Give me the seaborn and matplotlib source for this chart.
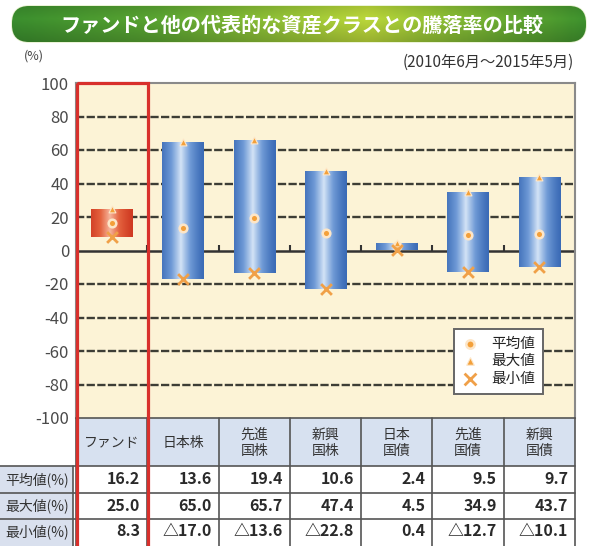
import numpy as np
import pandas as pd
import matplotlib
matplotlib.use("Agg")
import matplotlib.pyplot as plt
import seaborn as sns
from matplotlib.patches import FancyBboxPatch, Rectangle
from matplotlib.colors import LinearSegmentedColormap

# ---------------- data ----------------
categories = ["ファンド", "日本株", "先進国株", "新興国株", "日本国債", "先進国債", "新興国債"]
header_labels = ["ファンド", "日本株", "先進\n国株", "新興\n国株", "日本\n国債", "先進\n国債", "新興\n国債"]
avg_vals = [16.2, 13.6, 19.4, 10.6, 2.4, 9.5, 9.7]
max_vals = [25.0, 65.0, 65.7, 47.4, 4.5, 34.9, 43.7]
min_vals = [8.3, -17.0, -13.6, -22.8, 0.4, -12.7, -10.1]
row_labels = ["平均値(%)", "最大値(%)", "最小値(%)"]
legend_labels = ["平均値", "最大値", "最小値"]
yticks = [-100, -80, -60, -40, -20, 0, 20, 40, 60, 80, 100]
title = "ファンドと他の代表的な資産クラスとの騰落率の比較"
subtitle = "(2010年6月～2015年5月)"
unit_label = "(%)"

df = pd.DataFrame({"cat": categories, "avg": avg_vals, "max": max_vals, "min": min_vals})
df["span"] = df["max"] - df["min"]

# ---------------- style ----------------
sns.set_theme(style="white")
plt.rcParams["font.family"] = ["Noto Sans CJK JP", "DejaVu Sans"]

W, H = 598, 546
fig = plt.figure(figsize=(W / 100, H / 100), dpi=100)
fig.patch.set_facecolor("white")


def fx(px):
    return px / W


def fy(py):
    return 1 - py / H


AX_L, AX_R, AX_T, AX_B = 76, 575, 83, 418
ax = fig.add_axes([fx(AX_L), fy(AX_B), fx(AX_R) - fx(AX_L), fy(AX_T) - fy(AX_B)])
ax.set_facecolor("#fcf3d6")

# range bars (min -> max)
sns.barplot(data=df, x="cat", y="span", bottom=df["min"].to_numpy(), color="#4a7bc8",
            width=0.58, linewidth=0, ax=ax, zorder=2)
bars = list(ax.patches)

blue_cmap = LinearSegmentedColormap.from_list("b", ["#3b6bb6", "#6f9ad6", "#d3e3f6"])
red_cmap = LinearSegmentedColormap.from_list("r", ["#cf3a22", "#e4623e", "#f6b59c"])
t = np.linspace(0, 1, 200)
prof = np.clip(1 - np.abs(t - 0.45) / 0.55, 0, 1) ** 1.3
grad = prof[np.newaxis, :]
for i, p in enumerate(bars):
    cmap = red_cmap if i == 0 else blue_cmap
    x0, y0 = p.get_x(), p.get_y()
    im = ax.imshow(grad, cmap=cmap, vmin=0, vmax=1, aspect="auto",
                   extent=(x0, x0 + p.get_width(), y0, y0 + p.get_height()),
                   zorder=3, interpolation="bilinear")
    im.set_clip_path(p)

# markers
sns.scatterplot(x=categories, y=avg_vals, marker="o", color="#f3a03a", s=30,
                edgecolor="#fde6c8", linewidth=1.8, zorder=6, ax=ax, label=legend_labels[0])
sns.scatterplot(x=categories, y=max_vals, marker="^", color="#f3a03a", s=24,
                edgecolor="#fde6c8", linewidth=0.8, zorder=6, ax=ax, label=legend_labels[1])
sns.scatterplot(x=categories, y=min_vals, marker="x", color="#f0a048", s=60,
                linewidth=2.0, zorder=6, ax=ax, label=legend_labels[2])

ax.set_xlim(-0.5, len(categories) - 0.5)
ax.set_ylim(min(yticks), max(yticks))
ax.set_yticks(yticks)
ax.set_yticklabels([str(v) for v in yticks])
ax.tick_params(axis="y", length=0, labelsize=12, labelcolor="#4a4a4a", pad=5)
ax.tick_params(axis="x", length=0, labelbottom=False)
ax.set_xlabel("")
ax.set_ylabel("")

# dashed grid
ax.set_axisbelow(True)
ax.yaxis.grid(True, linestyle=(0, (3.5, 1.0)), color="#3d3d35", linewidth=1.7)
for gl, v in zip(ax.yaxis.get_gridlines(), yticks):
    if v in (min(yticks), max(yticks), 0):
        gl.set_visible(False)
ax.axhline(0, color="#333333", linewidth=1.8, zorder=1)
ax.vlines(np.arange(len(categories) - 1) + 0.5, 0, 3, color="#333333", linewidth=1.5, zorder=1)

for side in ["top", "right", "left"]:
    ax.spines[side].set_color("#8a8a8a")
    ax.spines[side].set_linewidth(1.5)
ax.spines["bottom"].set_visible(False)

leg = ax.legend(loc="lower left", bbox_to_anchor=(0.758, 0.072), frameon=True, fancybox=False,
                edgecolor="#666666", facecolor="white", framealpha=1, fontsize=10.5,
                handlelength=1.0, handletextpad=1.0, borderpad=0.55, labelspacing=0.25,
                borderaxespad=0, markerscale=1.1)
leg.get_frame().set_linewidth(1.4)
for txt in leg.get_texts():
    txt.set_color("#222222")
leg.set_zorder(10)

# ---------------- overlay (title, table, highlight) ----------------
ov = fig.add_axes([0, 0, 1, 1], zorder=5)
ov.set_xlim(0, W)
ov.set_ylim(H, 0)
ov.axis("off")
ov.patch.set_alpha(0)

# banner
bx0, by0, bw, bh = 12, 6, 574, 36
banner = FancyBboxPatch((bx0, by0), bw, bh, boxstyle="round,pad=0,rounding_size=17",
                        facecolor="#6fae34", edgecolor="#e8f2d0", linewidth=1.2, zorder=1)
ov.add_patch(banner)
gcmap = LinearSegmentedColormap.from_list(
    "g", [(0.0, "#3b8f2e"), (0.25, "#5aa532"), (0.62, "#bcd83a"), (0.85, "#6cae32"), (1.0, "#3f932e")])
gx = np.linspace(0, 1, 300)
gy = np.linspace(0, 1, 40)[:, None]
gimg = gcmap(gx)[None, :, :].repeat(40, axis=0)
shade = (1 - 0.18 * np.abs(gy - 0.35) / 0.65)[..., None]
gimg[..., :3] = gimg[..., :3] * shade
gim = ov.imshow(gimg, extent=(bx0, bx0 + bw, by0 + bh, by0), aspect="auto", zorder=2,
                interpolation="bilinear")
gim.set_clip_path(banner)
ov.text(bx0 + bw / 2 + 3, by0 + bh / 2 + 1, title, color="white", fontsize=14.5,
        fontweight="bold", ha="center", va="center", zorder=3)

ov.text(574, 62, subtitle, fontsize=11, color="#333333", ha="right", va="center")
ov.text(34, 56, unit_label, fontsize=9, color="#444444", ha="center", va="center")

# table
col_w = (AX_R - AX_L) / len(categories)
hdr_top, hdr_bot = 418, 466
row_edges = [466, 493, 519, 548]
line_c = "#555555"
ov.add_patch(Rectangle((AX_L, hdr_top), AX_R - AX_L, hdr_bot - hdr_top,
                       facecolor="#d7e1f0", edgecolor="none", zorder=1))
ov.add_patch(Rectangle((AX_L, hdr_bot), AX_R - AX_L, row_edges[-1] - hdr_bot,
                       facecolor="white", edgecolor="none", zorder=1))
ov.add_patch(Rectangle((-2, hdr_bot), AX_L - 1, row_edges[-1] - hdr_bot,
                       facecolor="#d9e0ee", edgecolor="none", zorder=1))
for i in range(len(categories) + 1):
    xx = AX_L + i * col_w
    ov.plot([xx, xx], [hdr_top, row_edges[-1]], color=line_c, lw=1.2, zorder=2)
ov.plot([AX_L, AX_R], [hdr_top, hdr_top], color=line_c, lw=1.2, zorder=2)
for yy in row_edges[:-1]:
    ov.plot([0, AX_R], [yy, yy], color=line_c, lw=1.2, zorder=2)
ov.plot([AX_L - 3, AX_L - 3], [hdr_bot, row_edges[-1]], color=line_c, lw=1.2, zorder=2)

for i, lab in enumerate(header_labels):
    ov.text(AX_L + (i + 0.5) * col_w, (hdr_top + hdr_bot) / 2 + 1, lab, fontsize=10,
            color="#333333", ha="center", va="center", linespacing=1.15, zorder=3)


def fmt(v):
    return ("△" if v < 0 else "") + f"{abs(v):.1f}"


for r, vals in enumerate([avg_vals, max_vals, min_vals]):
    yc = (row_edges[r] + row_edges[r + 1]) / 2 - (2 if r == 2 else 0)
    ov.text(AX_L - 7, yc, row_labels[r], fontsize=10, color="#333333", ha="right",
            va="center", zorder=3)
    for i, v in enumerate(vals):
        ov.text(AX_L + (i + 1) * col_w - 7, yc, fmt(v), fontsize=11.5, color="#2a2a2a",
                ha="right", va="center", fontweight="bold", zorder=3)

# highlight box around the fund column
ov.add_patch(Rectangle((AX_L + 1, AX_T), col_w, 470, facecolor="none",
                       edgecolor="#d8302c", linewidth=2.3, zorder=6))

fig.savefig("out.png", dpi=100)
